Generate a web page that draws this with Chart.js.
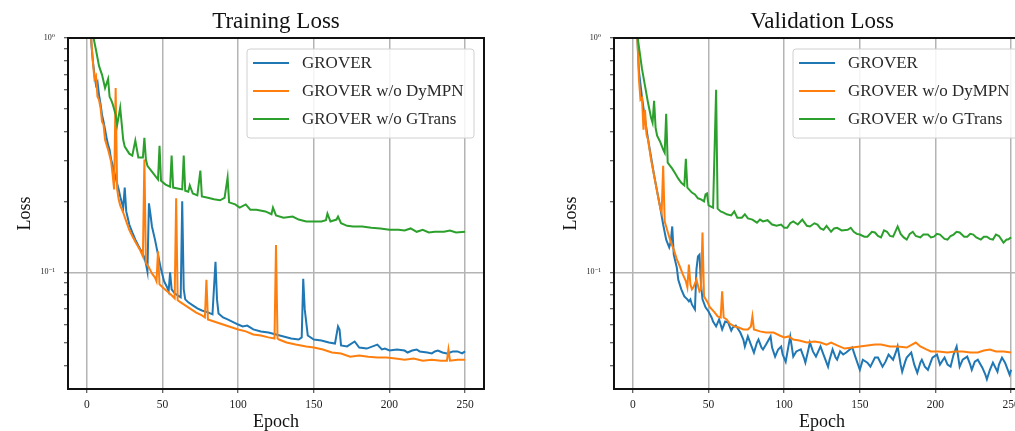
<!DOCTYPE html>
<html><head><meta charset="utf-8">
<script src="https://cdn.jsdelivr.net/npm/chart.js@4.4.1/dist/chart.umd.min.js"></script>
<style>
html,body{margin:0;padding:0;background:#fff;overflow:hidden;width:1015px;height:431px;}
#left{position:absolute;left:0;top:0;width:510px;height:431px;}
#right{position:absolute;left:530px;top:0;width:545px;height:431px;}
</style></head><body>
<div id="left"><canvas id="c1"></canvas></div>
<div id="right"><canvas id="c2"></canvas></div>
<script>
const SERIES_NAMES = ['GROVER', 'GROVER w/o DyMPN', 'GROVER w/o GTrans'];
const SERIES_COLORS = ['#1f77b4', '#ff7f0e', '#2ca02c'];
const X_TICKS = [0, 50, 100, 150, 200, 250];
const Y_TICKS = [0.04,0.05,0.06,0.07,0.08,0.09,0.1,0.2,0.3,0.4,0.5,0.6,0.7,0.8,0.9,1];
const Y_MAJOR = [0.1, 1];
const Y_LABELS = {1: '10\u2070', 0.1: '10\u207B\u00B9'};
const X_MIN = -12.5, X_MAX = 262.5, Y_MIN = 0.0318, Y_MAX = 1;

// [epoch, loss]
const TRAIN_GROVER = [[0,3.0],[3,0.934],[4,0.790],[5,0.696],[6,0.631],[7,0.650],[8,0.572],[9,0.524],[10,0.470],[11,0.439],[12,0.406],[13,0.375],[14,0.350],[15,0.334],[16,0.303],[17,0.288],[18,0.269],[19,0.254],[20,0.239],[21,0.226],[22,0.211],[23,0.199],[24,0.189],[25,0.230],[26,0.182],[27,0.171],[28,0.160],[30,0.148],[32,0.138],[34,0.130],[36,0.123],[38,0.116],[39,0.109],[40,0.101],[41,0.197],[42,0.177],[43,0.157],[45,0.138],[47,0.119],[49,0.103],[51,0.0917],[53,0.0864],[54,0.0830],[55,0.100],[56,0.0847],[58,0.0814],[60,0.0798],[62,0.0783],[63,0.201],[64,0.0847],[65,0.0767],[67,0.0745],[70,0.0723],[73,0.0702],[76,0.0688],[80,0.0675],[83,0.0662],[85,0.111],[86,0.0767],[87,0.0668],[90,0.0642],[93,0.0630],[96,0.0617],[100,0.0599],[103,0.0588],[106,0.0593],[110,0.0571],[115,0.0560],[120,0.0554],[125,0.0543],[130,0.0533],[135,0.0522],[140,0.0517],[142,0.0528],[143,0.094],[144,0.0695],[146,0.0538],[150,0.0517],[155,0.0512],[160,0.0502],[164,0.0497],[166,0.0588],[167,0.0571],[168,0.0488],[172,0.0483],[177,0.0507],[180,0.0478],[185,0.0473],[192,0.0492],[195,0.0469],[197,0.0473],[200,0.0464],[205,0.0469],[210,0.0464],[212,0.0455],[215,0.0464],[218,0.0469],[220,0.0460],[225,0.0455],[228,0.0451],[230,0.0460],[232,0.0464],[235,0.0455],[238,0.0451],[240,0.0455],[242,0.0460],[245,0.0460],[248,0.0451],[250,0.0460]];
const TRAIN_DYMPN = [[0,3.0],[3,0.953],[4,0.783],[5,0.669],[6,0.689],[7,0.561],[8,0.545],[9,0.504],[10,0.439],[11,0.426],[12,0.368],[14,0.334],[16,0.297],[17,0.261],[18,0.226],[19,0.612],[20,0.226],[21,0.205],[22,0.193],[24,0.180],[26,0.165],[28,0.152],[30,0.143],[32,0.135],[35,0.125],[37,0.117],[38,0.303],[39,0.110],[41,0.105],[43,0.099],[45,0.095],[46,0.0917],[47,0.123],[48,0.0890],[50,0.0864],[53,0.0830],[56,0.0798],[58,0.0775],[59,0.207],[60,0.0760],[62,0.0745],[65,0.0723],[68,0.0702],[72,0.0675],[76,0.0655],[78,0.0642],[79,0.093],[80,0.0630],[84,0.0617],[88,0.0605],[92,0.0593],[96,0.0582],[100,0.0571],[105,0.0560],[110,0.0543],[115,0.0538],[120,0.0528],[124,0.0522],[125,0.131],[126,0.0522],[127,0.0517],[132,0.0502],[138,0.0492],[145,0.0483],[150,0.0478],[156,0.0469],[162,0.0455],[168,0.0451],[174,0.0437],[180,0.0442],[186,0.0437],[192,0.0433],[198,0.0433],[204,0.0429],[210,0.0424],[216,0.0429],[222,0.0420],[228,0.0424],[234,0.0420],[238,0.0420],[239,0.0469],[240,0.0420],[245,0.0424],[250,0.0424]];
const TRAIN_GTRANS = [[0,3.0],[4,1.03],[6,0.889],[8,0.760],[10,0.696],[12,0.612],[14,0.669],[15,0.561],[16,0.545],[17,0.524],[19,0.470],[20,0.426],[22,0.504],[24,0.368],[25,0.344],[28,0.321],[30,0.315],[32,0.365],[34,0.309],[37,0.309],[38,0.375],[39,0.303],[40,0.285],[44,0.264],[47,0.249],[48,0.347],[49,0.246],[52,0.237],[55,0.232],[56,0.315],[57,0.230],[60,0.228],[63,0.226],[64,0.315],[65,0.223],[67,0.221],[68,0.235],[70,0.217],[73,0.213],[75,0.272],[76,0.211],[80,0.208],[84,0.205],[88,0.203],[91,0.208],[93,0.254],[94,0.199],[98,0.195],[101,0.189],[105,0.195],[108,0.185],[112,0.185],[118,0.182],[122,0.177],[123,0.189],[125,0.175],[130,0.171],[136,0.173],[140,0.168],[145,0.165],[150,0.165],[155,0.165],[158,0.167],[159,0.178],[161,0.165],[165,0.168],[166,0.173],[168,0.162],[172,0.158],[176,0.157],[182,0.157],[188,0.155],[194,0.154],[200,0.152],[206,0.152],[210,0.151],[214,0.154],[218,0.149],[222,0.152],[226,0.148],[230,0.149],[236,0.149],[240,0.151],[244,0.148],[250,0.149]];

const VAL_GROVER = [[0,3.0],[3,0.981],[4,0.72],[6,0.56],[8,0.45],[10,0.37],[12,0.31],[14,0.26],[16,0.222],[18,0.19],[20,0.16],[22,0.138],[24,0.128],[25,0.135],[26,0.157],[27,0.119],[29,0.105],[30,0.093],[32,0.0847],[34,0.0790],[36,0.0767],[37,0.0752],[38,0.0767],[39,0.0730],[41,0.0695],[42,0.103],[43,0.117],[44,0.119],[45,0.0890],[46,0.0767],[48,0.0709],[50,0.0681],[52,0.0642],[53,0.0617],[55,0.0588],[57,0.0630],[59,0.0571],[61,0.0617],[63,0.0611],[65,0.0565],[66,0.0582],[68,0.0593],[71,0.0554],[73,0.0517],[74,0.0483],[76,0.0533],[78,0.0492],[80,0.0455],[82,0.0502],[83,0.0517],[85,0.0478],[86,0.0469],[88,0.0492],[91,0.0533],[92,0.0478],[94,0.0437],[96,0.0469],[98,0.0483],[99,0.0446],[101,0.0416],[103,0.0492],[104,0.0533],[106,0.0437],[108,0.0460],[111,0.0469],[113,0.0433],[114,0.0412],[116,0.0469],[117,0.0502],[119,0.0460],[121,0.0437],[124,0.0483],[126,0.0446],[129,0.0396],[130,0.0424],[132,0.0469],[134,0.0433],[135,0.0424],[137,0.0460],[139,0.0446],[141,0.0455],[145,0.0478],[147,0.0437],[150,0.0384],[152,0.0424],[155,0.0412],[157,0.0396],[160,0.0433],[162,0.0433],[165,0.0396],[167,0.0416],[169,0.0446],[172,0.0424],[174,0.0460],[175,0.0483],[177,0.0404],[178,0.0377],[180,0.0416],[181,0.0433],[184,0.0455],[186,0.0404],[188,0.0373],[190,0.0412],[191,0.0424],[193,0.0396],[195,0.0384],[197,0.0416],[198,0.0433],[201,0.0446],[203,0.0404],[205,0.0424],[206,0.0433],[208,0.0404],[210,0.0396],[212,0.0446],[214,0.0483],[216,0.0396],[218,0.0424],[221,0.0437],[223,0.0404],[224,0.0384],[226,0.0416],[228,0.0424],[231,0.0392],[233,0.0366],[234,0.0350],[236,0.0384],[238,0.0412],[241,0.0377],[242,0.0404],[244,0.0433],[246,0.0412],[247,0.0396],[249,0.0366],[250,0.0384]];
const VAL_DYMPN = [[0,3.0],[3,0.981],[4,0.663],[5,0.545],[6,0.555],[7,0.406],[8,0.494],[9,0.387],[10,0.368],[12,0.303],[14,0.259],[16,0.221],[18,0.189],[19,0.180],[20,0.285],[21,0.165],[23,0.149],[25,0.135],[27,0.125],[29,0.114],[31,0.106],[33,0.098],[35,0.0917],[36,0.0864],[37,0.108],[38,0.0890],[39,0.0847],[40,0.0864],[42,0.093],[44,0.0830],[45,0.0847],[46,0.148],[47,0.0790],[49,0.0752],[51,0.0709],[54,0.0675],[56,0.0649],[58,0.0642],[59,0.0830],[60,0.0642],[62,0.0630],[64,0.0605],[67,0.0588],[70,0.0582],[73,0.0571],[76,0.0571],[78,0.0588],[79,0.0649],[80,0.0571],[84,0.0560],[88,0.0554],[93,0.0554],[97,0.0538],[100,0.0528],[103,0.0533],[106,0.0517],[110,0.0512],[115,0.0502],[120,0.0507],[124,0.0502],[128,0.0492],[131,0.0502],[135,0.0488],[140,0.0473],[145,0.0478],[150,0.0483],[155,0.0488],[160,0.0492],[164,0.0492],[170,0.0483],[175,0.0483],[181,0.0478],[187,0.0502],[190,0.0483],[194,0.0469],[197,0.0460],[202,0.0460],[208,0.0455],[213,0.0460],[218,0.0460],[223,0.0455],[228,0.0455],[232,0.0464],[236,0.0469],[240,0.0460],[245,0.0460],[250,0.0455]];
const VAL_GTRANS = [[0,3.0],[3,1.02],[6,0.738],[8,0.625],[10,0.529],[12,0.457],[13,0.435],[14,0.539],[15,0.414],[16,0.383],[18,0.361],[20,0.334],[21,0.324],[22,0.475],[23,0.294],[24,0.288],[26,0.277],[28,0.264],[30,0.251],[32,0.241],[34,0.235],[35,0.305],[36,0.230],[39,0.219],[41,0.215],[43,0.207],[45,0.205],[47,0.201],[48,0.215],[49,0.217],[50,0.193],[53,0.189],[55,0.601],[56,0.187],[58,0.182],[60,0.180],[62,0.177],[65,0.175],[67,0.182],[69,0.171],[72,0.171],[74,0.177],[76,0.170],[79,0.168],[82,0.163],[84,0.168],[86,0.165],[89,0.167],[92,0.160],[95,0.158],[98,0.160],[100,0.155],[102,0.155],[104,0.162],[106,0.165],[109,0.160],[112,0.168],[115,0.158],[117,0.157],[120,0.162],[122,0.160],[124,0.154],[126,0.152],[128,0.158],[131,0.149],[133,0.154],[135,0.155],[138,0.151],[142,0.152],[144,0.155],[146,0.149],[148,0.146],[150,0.145],[153,0.142],[155,0.142],[158,0.149],[160,0.148],[162,0.143],[164,0.141],[166,0.151],[168,0.149],[170,0.143],[172,0.142],[175,0.157],[177,0.146],[179,0.141],[181,0.138],[183,0.146],[185,0.149],[187,0.143],[190,0.141],[192,0.145],[195,0.145],[197,0.141],[199,0.142],[201,0.146],[203,0.145],[206,0.139],[208,0.138],[210,0.143],[212,0.145],[214,0.149],[216,0.148],[219,0.142],[221,0.142],[223,0.146],[225,0.145],[227,0.141],[230,0.138],[232,0.142],[234,0.142],[236,0.139],[238,0.138],[240,0.145],[242,0.143],[245,0.134],[247,0.138],[248,0.138],[250,0.141]];

const SERIF = "'Liberation Serif', 'DejaVu Serif', serif";

const framePlugin = {
  id: 'frame',
  afterDraw(chart, args, opts) {
    const {ctx, chartArea: a} = chart;
    ctx.save();
    const bw = 227, bh = 89;
    const bx = a.right - 10 - bw, by = a.top + 11;
    const r = 3;
    ctx.beginPath();
    ctx.moveTo(bx + r, by);
    ctx.lineTo(bx + bw - r, by); ctx.quadraticCurveTo(bx + bw, by, bx + bw, by + r);
    ctx.lineTo(bx + bw, by + bh - r); ctx.quadraticCurveTo(bx + bw, by + bh, bx + bw - r, by + bh);
    ctx.lineTo(bx + r, by + bh); ctx.quadraticCurveTo(bx, by + bh, bx, by + bh - r);
    ctx.lineTo(bx, by + r); ctx.quadraticCurveTo(bx, by, bx + r, by);
    ctx.closePath();
    ctx.fillStyle = 'rgba(255,255,255,0.85)';
    ctx.fill();
    ctx.strokeStyle = '#d0d0d0';
    ctx.lineWidth = 1;
    ctx.stroke();
    ctx.font = '17px ' + SERIF;
    ctx.textAlign = 'left';
    ctx.textBaseline = 'middle';
    SERIES_NAMES.forEach((name, i) => {
      const yy = by + 14 + i * 28;
      ctx.strokeStyle = SERIES_COLORS[i];
      ctx.lineWidth = 2;
      ctx.beginPath(); ctx.moveTo(bx + 6, yy); ctx.lineTo(bx + 42, yy); ctx.stroke();
      ctx.fillStyle = '#2a2a2a';
      ctx.fillText(name, bx + 55, yy + 1);
    });
    ctx.strokeStyle = '#111';
    ctx.lineWidth = 2;
    ctx.strokeRect(a.left, a.top, a.right - a.left, a.bottom - a.top);
    ctx.fillStyle = '#111';
    ctx.font = '23px ' + SERIF;
    ctx.textAlign = 'center';
    ctx.textBaseline = 'middle';
    ctx.fillText(opts.title, (a.left + a.right) / 2, 22);
    ctx.restore();
  }
};

function makeChart(canvasId, title, series, geom) {
  const datasets = series.map((s, i) => ({
    label: SERIES_NAMES[i],
    data: s.map(p => ({x: p[0], y: p[1]})),
    borderColor: SERIES_COLORS[i],
    backgroundColor: SERIES_COLORS[i],
    borderWidth: 2,
    pointRadius: 0,
    tension: 0,
    fill: false,
    order: 3 - i
  }));
  return new Chart(document.getElementById(canvasId), {
    type: 'line',
    data: {datasets},
    options: {
      responsive: true,
      maintainAspectRatio: false,
      animation: false,
      devicePixelRatio: 1,
      layout: {padding: {top: 38, right: geom.padRight, bottom: 0, left: 0}},
      scales: {
        x: {
          type: 'linear', min: X_MIN, max: X_MAX,
          afterBuildTicks: s => { s.ticks = X_TICKS.map(v => ({value: v})); },
          afterFit: s => { s.height = 42; },
          grid: {color: '#b4b4b4', lineWidth: 1.5, tickLength: 4, tickColor: '#333', tickWidth: 1},
          border: {display: false},
          ticks: {font: {family: SERIF, size: 11.5}, color: '#222', padding: 5, maxRotation: 0, autoSkip: false, callback: v => String(v)},
          title: {display: true, text: 'Epoch', font: {family: SERIF, size: 18, lineHeight: 1}, color: '#111', padding: {top: 0, bottom: 0}}
        },
        y: {
          type: 'logarithmic', min: Y_MIN, max: Y_MAX,
          afterBuildTicks: s => { s.ticks = Y_TICKS.map(v => ({value: v})); },
          afterFit: s => { s.width = geom.yWidth; },
          grid: {
            color: c => (c.tick && Y_MAJOR.includes(c.tick.value)) ? '#b4b4b4' : 'rgba(0,0,0,0)',
            lineWidth: 1.5, tickLength: 4, tickColor: '#333', tickWidth: 1
          },
          border: {display: false},
          ticks: {font: {family: SERIF, size: 8}, color: '#222', padding: 9, autoSkip: false,
                  callback: v => Y_LABELS[v] || ''},
          title: {display: true, text: 'Loss', font: {family: SERIF, size: 18, lineHeight: 1}, color: '#111', padding: {top: geom.titlePad, bottom: 0}}
        }
      },
      plugins: {legend: {display: false}, tooltip: {enabled: false}, frame: {title: title}}
    },
    plugins: [framePlugin]
  });
}

makeChart('c1', 'Training Loss', [TRAIN_GROVER, TRAIN_DYMPN, TRAIN_GTRANS], {yWidth: 68, padRight: 26, titlePad: 16});
makeChart('c2', 'Validation Loss', [VAL_GROVER, VAL_DYMPN, VAL_GTRANS], {yWidth: 84, padRight: 45, titlePad: 32});
</script>
</body></html>
